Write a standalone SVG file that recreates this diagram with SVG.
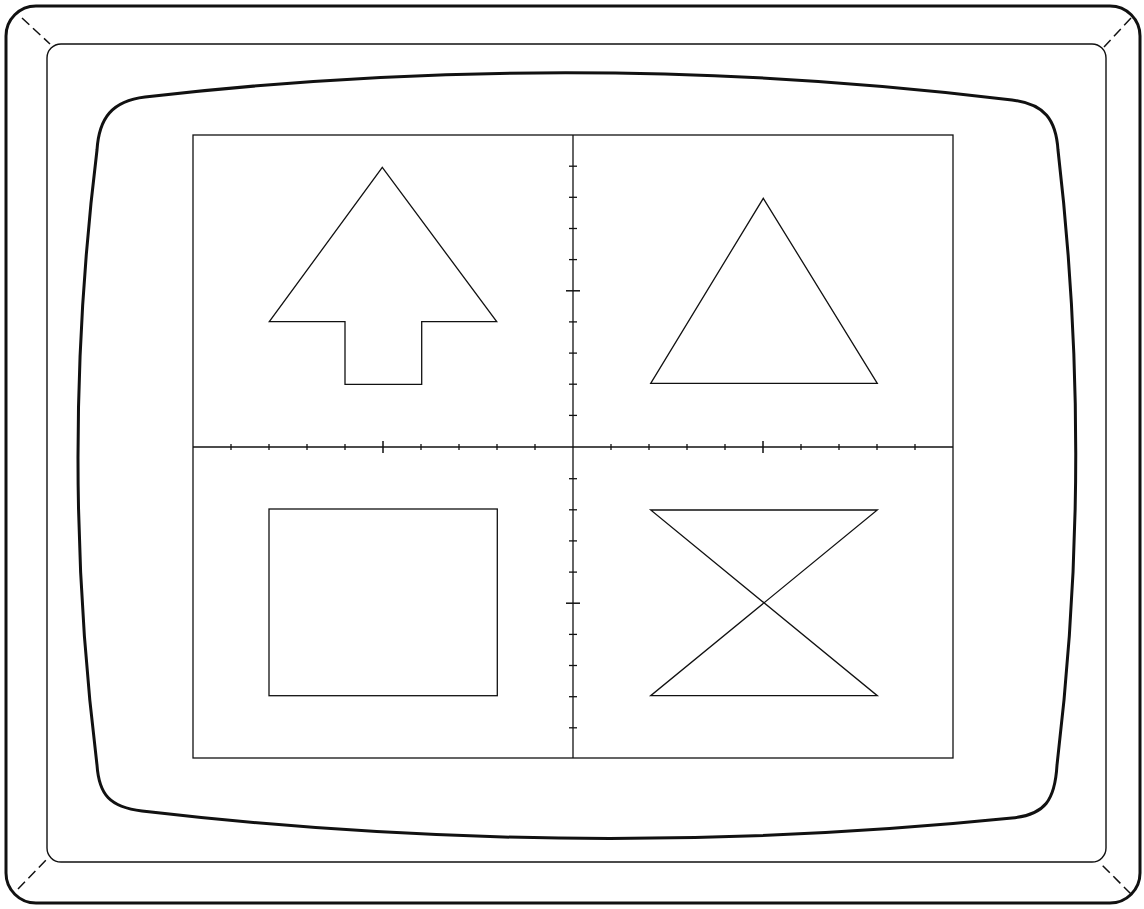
<svg xmlns="http://www.w3.org/2000/svg" width="1144" height="909" viewBox="0 0 1144 909">
<style>
.thick{fill:none;stroke:#111;stroke-width:3}
.thin{fill:none;stroke:#111;stroke-width:1.4}
.dash{fill:none;stroke:#111;stroke-width:1.5;stroke-dasharray:10 5}
.shape{fill:none;stroke:#111;stroke-width:1.3;stroke-linejoin:miter}
.tick{stroke:#111;stroke-width:1.3}
.major{stroke:#111;stroke-width:1.5}
</style>
<rect width="1144" height="909" fill="#fff"/>
<g id="monitor">
<rect class="thick" x="6" y="6" width="1134" height="897" rx="30"/>
<rect class="thin" x="47" y="44" width="1059" height="818" rx="14"/>
<line class="dash" x1="22" y1="18" x2="50" y2="44"/>
<line class="dash" x1="1131" y1="18" x2="1104" y2="47"/>
<line class="dash" x1="18" y1="889" x2="47" y2="859"/>
<line class="dash" x1="1131" y1="894" x2="1102" y2="865"/>
</g>
<g id="screen">
<path class="thick" d="M145,97 Q578,47 1012,100 C1045,104 1056,120 1058,150 Q1094,458 1057,765 C1055,800 1045,815 1012,818 Q578,862 142,811 C110,807 99,795 97,765 Q59,458 97,150 C99,118 112,101 145,97 Z"/>
</g>
<g id="grid">
<rect class="shape" x="193" y="135" width="760" height="623"/>
<line class="shape" x1="573" y1="135" x2="573" y2="758"/>
<line class="shape" x1="193" y1="447" x2="953" y2="447"/>
<g id="xticks">
<line class="tick" x1="231" y1="444" x2="231" y2="450"/>
<line class="tick" x1="269" y1="444" x2="269" y2="450"/>
<line class="tick" x1="307" y1="444" x2="307" y2="450"/>
<line class="tick" x1="345" y1="444" x2="345" y2="450"/>
<line class="major" x1="383" y1="441" x2="383" y2="453"/>
<line class="tick" x1="421" y1="444" x2="421" y2="450"/>
<line class="tick" x1="459" y1="444" x2="459" y2="450"/>
<line class="tick" x1="497" y1="444" x2="497" y2="450"/>
<line class="tick" x1="535" y1="444" x2="535" y2="450"/>
<line class="tick" x1="611" y1="444" x2="611" y2="450"/>
<line class="tick" x1="649" y1="444" x2="649" y2="450"/>
<line class="tick" x1="687" y1="444" x2="687" y2="450"/>
<line class="tick" x1="725" y1="444" x2="725" y2="450"/>
<line class="major" x1="763" y1="441" x2="763" y2="453"/>
<line class="tick" x1="801" y1="444" x2="801" y2="450"/>
<line class="tick" x1="839" y1="444" x2="839" y2="450"/>
<line class="tick" x1="877" y1="444" x2="877" y2="450"/>
<line class="tick" x1="915" y1="444" x2="915" y2="450"/>
</g>
<g id="yticks">
<line class="tick" x1="569" y1="166.2" x2="577" y2="166.2"/>
<line class="tick" x1="569" y1="197.3" x2="577" y2="197.3"/>
<line class="tick" x1="569" y1="228.5" x2="577" y2="228.5"/>
<line class="tick" x1="569" y1="259.6" x2="577" y2="259.6"/>
<line class="major" x1="566" y1="290.8" x2="580" y2="290.8"/>
<line class="tick" x1="569" y1="321.9" x2="577" y2="321.9"/>
<line class="tick" x1="569" y1="353.1" x2="577" y2="353.1"/>
<line class="tick" x1="569" y1="384.2" x2="577" y2="384.2"/>
<line class="tick" x1="569" y1="415.4" x2="577" y2="415.4"/>
<line class="tick" x1="569" y1="478.7" x2="577" y2="478.7"/>
<line class="tick" x1="569" y1="509.8" x2="577" y2="509.8"/>
<line class="tick" x1="569" y1="540.9" x2="577" y2="540.9"/>
<line class="tick" x1="569" y1="572.1" x2="577" y2="572.1"/>
<line class="major" x1="566" y1="603.2" x2="580" y2="603.2"/>
<line class="tick" x1="569" y1="634.4" x2="577" y2="634.4"/>
<line class="tick" x1="569" y1="665.5" x2="577" y2="665.5"/>
<line class="tick" x1="569" y1="696.7" x2="577" y2="696.7"/>
<line class="tick" x1="569" y1="727.8" x2="577" y2="727.8"/>
</g>
</g>
<g id="arrow">
<polygon class="shape" points="382.3,167.3 496.7,321.7 421.7,321.7 421.7,384.3 345,384.3 345,321.7 269.3,321.7"/>
</g>
<g id="triangle">
<polygon class="shape" points="763.3,198.3 877.3,383.3 650.7,383.3"/>
</g>
<g id="square">
<rect class="shape" x="269" y="509" width="228.3" height="186.7"/>
</g>
<g id="hourglass">
<polygon class="shape" points="650.7,510 877.3,510 650.7,695.7 877.3,695.7"/>
</g>
</svg>
